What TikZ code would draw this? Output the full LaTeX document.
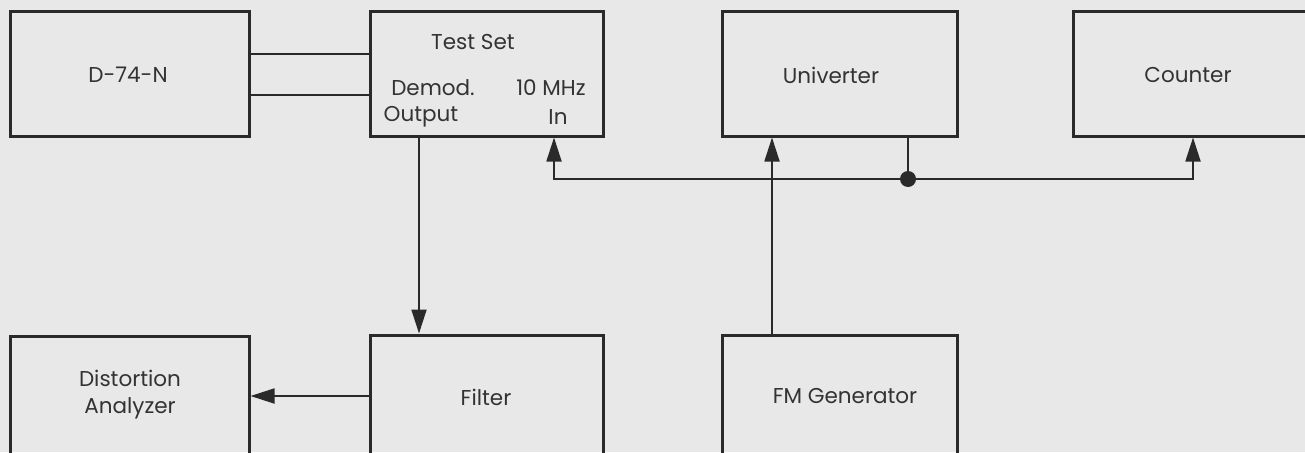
\documentclass[tikz,border=0pt]{standalone}
\usepackage{fontspec}
\setmainfont{Poppins}
\usetikzlibrary{arrows.meta}
\definecolor{bg}{HTML}{E8E8E8}
\definecolor{ink}{HTML}{2A2A2A}
\definecolor{txt}{HTML}{333333}
\begin{document}
\begin{tikzpicture}[x=1pt,y=-1pt,
  box/.style={draw=ink,line width=3pt,inner sep=0pt},
  lbl/.style={text=txt,font=\fontsize{21.5}{27}\selectfont,inner sep=0pt,align=center},
  wire/.style={draw=ink,line width=1.8pt},
  tip/.style={-{Triangle[length=24pt,width=15pt]}},
  line join=miter]
\useasboundingbox (0,0) rectangle (1305,452);
\clip (0,0) rectangle (1305,452);
\fill[bg] (0,0) rectangle (1305,452);
% boxes
\node[box,minimum width=239pt,minimum height=124pt] (d74) at (129.5,74) {};
\node[box,minimum width=233pt,minimum height=124pt] (ts) at (486.5,74) {};
\node[box,minimum width=235pt,minimum height=124pt] (univ) at (839.5,74) {};
\node[box,minimum width=250pt,minimum height=124pt] (ctr) at (1198,74) {};
\node[box,minimum width=239pt,minimum height=134pt] (da) at (129.5,403) {};
\node[box,minimum width=233pt,minimum height=134pt] (flt) at (486.5,402) {};
\node[box,minimum width=235pt,minimum height=134pt] (fm) at (839.5,402) {};
% labels
\node[lbl] (d74t) at (128,75) {D-74-N};
\node[lbl] (tst) at (473,42) {Test Set};
\node[lbl] (tsdm) at (433,88) {Demod.};
\node[lbl] (tsmhz) at (551,88) {10 MHz};
\node[lbl] (tsout) at (421,117) {Output};
\node[lbl] (tsin) at (558,117) {In};
\node[lbl] (univt) at (831,75) {Univerter};
\node[lbl] (ctrt) at (1188,75) {Counter};
\node[lbl] (dat) at (130,395) {Distortion\\Analyzer};
\node[lbl] (fltt) at (486,397) {Filter};
\node[lbl] (fmt) at (845,396) {FM Generator};
% coordinates
\coordinate (l1) at (0,54);
\coordinate (l2) at (0,95);
\coordinate (outx) at (419,0);
\coordinate (bus1) at (554,179);
\coordinate (bus2) at (1193,179);
\coordinate (dot) at (908,179);
\coordinate (fmx) at (772,0);
\coordinate (fy) at (0,396);
% connectors
\draw[wire] (d74.east |- l1) -- (ts.west |- l1);
\draw[wire] (d74.east |- l2) -- (ts.west |- l2);
\draw[wire,tip] (ts.south -| outx) -- (flt.north -| outx);
\draw[wire,{Triangle[length=24pt,width=15pt]}-{Triangle[length=24pt,width=15pt]}] (ts.south -| bus1) -- (bus1) -- (bus2) -- (ctr.south -| bus2);
\draw[wire] (univ.south -| dot) -- (dot);
\fill[ink] (dot) circle (8pt);
\draw[wire,tip] (fm.north -| fmx) -- (univ.south -| fmx);
\draw[wire,tip] (flt.west |- fy) -- (da.east |- fy);
\end{tikzpicture}
\end{document}
